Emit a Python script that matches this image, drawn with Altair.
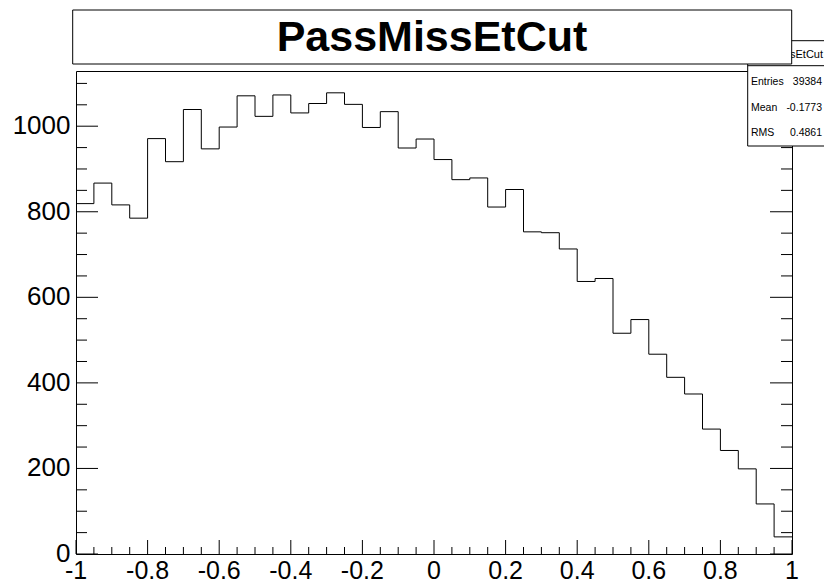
import altair as alt
import pandas as pd

# ---- data ----
bin_low = -1.0
bin_high = 1.0
counts = [819, 867, 816, 785, 971, 917, 1039, 947, 998, 1071,
          1023, 1073, 1031, 1053, 1078, 1051, 997, 1034, 949, 970,
          922, 875, 879, 811, 852, 753, 751, 713, 637, 644,
          516, 548, 467, 413, 374, 292, 242, 199, 117, 40]

x_major = [-1, -0.8, -0.6, -0.4, -0.2, 0, 0.2, 0.4, 0.6, 0.8, 1]
x_labels = ["-1", "-0.8", "-0.6", "-0.4", "-0.2", "0", "0.2", "0.4", "0.6", "0.8", "1"]
x_minor = [-0.95, -0.9, -0.85, -0.75, -0.7, -0.65, -0.55, -0.5, -0.45,
           -0.35, -0.3, -0.25, -0.15, -0.1, -0.05, 0.05, 0.1, 0.15,
           0.25, 0.3, 0.35, 0.45, 0.5, 0.55, 0.65, 0.7, 0.75, 0.85, 0.9, 0.95]
y_major = [0, 200, 400, 600, 800, 1000]
y_labels = ["0", "200", "400", "600", "800", "1000"]
y_minor = [50, 100, 150, 250, 300, 350, 450, 500, 550, 650, 700, 750,
           850, 900, 950, 1050, 1100]

title_text = "PassMissEtCut"
stat_names = ["Entries", "Mean", "RMS"]
stat_values = ["39384", "-0.1773", "0.4861"]

# ---- layout ----
W, H = 716, 483
FONT = "Liberation Sans"
y_max = 1129

nb = len(counts)
width_bin = (bin_high - bin_low) / nb
edges = [bin_low + i * width_bin for i in range(nb)] + [bin_high]
hist = pd.DataFrame({"x": edges, "n": counts + [counts[-1]]})

xs = alt.Scale(domain=[bin_low, bin_high], nice=False, zero=False)
ys = alt.Scale(domain=[0, y_max], nice=False, zero=False)

dummy = pd.DataFrame({"a": [0]})

line = alt.Chart(hist).mark_line(
    interpolate="step-after", color="black", strokeWidth=1
).encode(
    x=alt.X("x:Q", scale=xs, axis=None),
    y=alt.Y("n:Q", scale=ys, axis=None),
)

def yticks(vals, x0, x1):
    return alt.Chart(pd.DataFrame({"v": vals})).mark_rule(color="black", strokeWidth=1).encode(
        y=alt.Y("v:Q", scale=ys, axis=None), x=alt.value(x0), x2=alt.value(x1))

def xticks(vals, length):
    return alt.Chart(pd.DataFrame({"v": vals})).mark_rule(color="black", strokeWidth=1).encode(
        x=alt.X("v:Q", scale=xs, axis=None), y=alt.value(H), y2=alt.value(H - length))

ticks = [
    yticks(y_major, 0, 22), yticks(y_minor, 0, 11),
    yticks(y_major, W - 22, W), yticks(y_minor, W - 11, W),
    xticks(x_major, 14), xticks(x_minor, 7),
]

ylab = alt.Chart(pd.DataFrame({"v": y_major, "t": y_labels})).mark_text(
    font=FONT, fontSize=26, align="right", baseline="middle", color="black"
).encode(y=alt.Y("v:Q", scale=ys, axis=None), x=alt.value(-5.5), text="t:N")

xlab = alt.Chart(pd.DataFrame({"v": x_major, "t": x_labels})).mark_text(
    font=FONT, fontSize=25, align="center", baseline="top", color="black"
).encode(x=alt.X("v:Q", scale=xs, axis=None), y=alt.value(H + 5), text="t:N")

# stats box
stats_box = alt.Chart(dummy).mark_rect(fill="white", stroke="black", strokeWidth=1).encode(
    x=alt.value(671.7), x2=alt.value(770), y=alt.value(-30.3), y2=alt.value(75))
stats_sep = alt.Chart(dummy).mark_rule(color="black", strokeWidth=1).encode(
    x=alt.value(671.7), x2=alt.value(770), y=alt.value(-5.3))
stats_title = alt.Chart(dummy).mark_text(
    text=title_text, font=FONT, fontSize=11, align="right", baseline="middle", color="black"
).encode(x=alt.value(747), y=alt.value(-16))

stat_layers = []
for name, val, yy in zip(stat_names, stat_values, [10.7, 37, 61.7]):
    stat_layers.append(alt.Chart(dummy).mark_text(
        text=name, font=FONT, fontSize=10.5, align="left", baseline="middle", color="black"
    ).encode(x=alt.value(675), y=alt.value(yy)))
    stat_layers.append(alt.Chart(dummy).mark_text(
        text=val, font=FONT, fontSize=10.5, align="right", baseline="middle", color="black"
    ).encode(x=alt.value(746), y=alt.value(yy)))

# title box
title_box = alt.Chart(dummy).mark_rect(fill="white", stroke="black", strokeWidth=1).encode(
    x=alt.value(-3.3), x2=alt.value(715.7), y=alt.value(-61), y2=alt.value(-7))
title = alt.Chart(dummy).mark_text(
    text=title_text, font=FONT, fontSize=43, fontWeight="bold",
    align="center", baseline="middle", color="black"
).encode(x=alt.value(356), y=alt.value(-33))

chart = alt.layer(
    line, *ticks, ylab, xlab, stats_box, stats_sep, stats_title, *stat_layers, title_box, title
).properties(
    width=W, height=H,
    autosize=alt.AutoSizeParams(type="none"),
    padding={"left": 68, "top": 63, "right": 32, "bottom": 30},
    background="white",
).configure_view(stroke="black", strokeWidth=1)

chart.save("out.html", embed_options={"renderer": "svg", "actions": False})
